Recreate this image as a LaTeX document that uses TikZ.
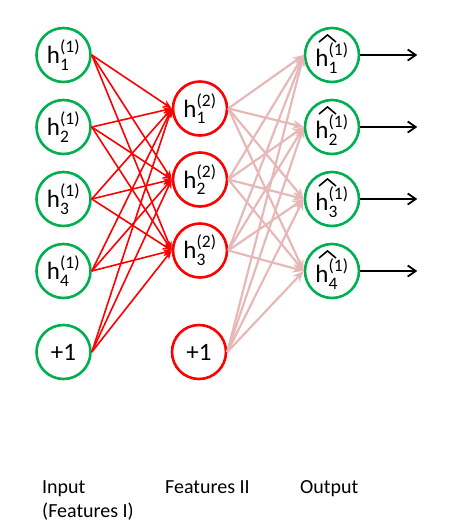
\documentclass[tikz,border=0pt]{standalone}
\usepackage{amsmath}
\usepackage{fontspec}
\setmainfont{Carlito}
\usetikzlibrary{arrows.meta}

\definecolor{netgreen}{RGB}{0,176,80}
\definecolor{netred}{RGB}{255,0,0}
\definecolor{netpink}{RGB}{230,185,184}

\newcommand{\hval}[2]{h$_{\text{#1}}^{\text{(#2)}}$}

\tikzset{
    unit/.style={circle, draw, line width=2.6pt, minimum size=54pt, inner sep=0pt, font=\fontsize{25}{27}\selectfont},
    inunit/.style={unit, draw=netgreen},
    hidunit/.style={unit, draw=netred},
    outunit/.style={unit, draw=netgreen, text height=23pt, text depth=0pt},
    layerone/.style={netred, line width=1.6pt, -{Stealth[length=9pt,width=7pt]}},
    layertwo/.style={netpink, line width=2.2pt, -{Stealth[length=11pt,width=9pt]}},
    result/.style={black, line width=1.8pt, -{Straight Barb[length=8pt,width=11pt]}},
    hatmark/.style={black, line width=1.6pt, line join=miter},
    caption/.style={anchor=base west, inner sep=0pt, font=\fontsize{20}{24}\selectfont},
}

\begin{document}
\begin{tikzpicture}[x=1pt, y=-1pt]
    \useasboundingbox (0,0) rectangle (453,528);

    % input layer
    \node[inunit] (in1) at (63.5,55) {\hval{1}{1}};
    \node[inunit] (in2) at (63.5,127) {\hval{2}{1}};
    \node[inunit] (in3) at (63.5,199) {\hval{3}{1}};
    \node[inunit] (in4) at (63.5,271) {\hval{4}{1}};
    \node[inunit] (inb) at (63.5,352) {+1};

    % features II
    \node[hidunit] (hid1) at (200,108.5) {\hval{1}{2}};
    \node[hidunit] (hid2) at (200,179.5) {\hval{2}{2}};
    \node[hidunit] (hid3) at (200,250.5) {\hval{3}{2}};
    \node[hidunit] (hidb) at (199,352) {+1};

    % output layer
    \node[outunit] (out1) at (332,55) {\hval{1}{1}};
    \node[outunit] (out2) at (332,127) {\hval{2}{1}};
    \node[outunit] (out3) at (332,199) {\hval{3}{1}};
    \node[outunit] (out4) at (332,271) {\hval{4}{1}};

    \foreach \i in {1,2,3,4,b}
        \foreach \j in {1,2,3}
            \draw[layerone] (in\i.east) -- (hid\j.west);

    \foreach \i in {1,2,3,b}
        \foreach \j in {1,2,3,4}
            \draw[layertwo] (hid\i.east) -- (out\j.west);

    \foreach \j in {1,2,3,4}{
        % hat over the reconstructed value
        \draw[hatmark] ([shift={(-13,-13)}]out\j.center) -- ++(8.5,-7) -- ++(8.5,7);
        \coordinate (end\j) at ([xshift=57pt]out\j.east);
        \draw[result] (out\j.east) -- (end\j);
    }

    % captions
    \node[caption] (capin) at (42,493) {Input};
    \node[caption] (capinb) at (42,517) {(Features I)};
    \node[caption] (caphid) at (165,493) {Features II};
    \node[caption] (capout) at (300,493) {Output};

\end{tikzpicture}
\end{document}
